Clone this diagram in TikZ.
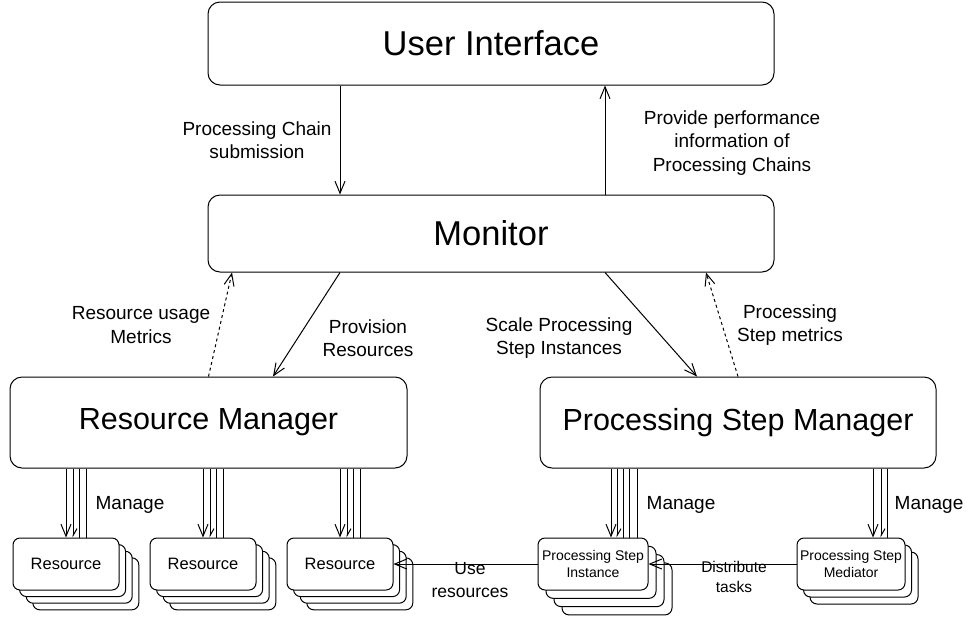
\documentclass[tikz,border=0pt]{standalone}
\usepackage{fontspec}
\setmainfont{Liberation Sans}
\usetikzlibrary{arrows.meta}

\begin{document}
\begin{tikzpicture}[x=1pt,y=-1pt]
        \tikzset{block/.style = {shape=rectangle,draw,line width=1pt,rounded corners=12pt,font=\fontsize{30.5}{36}\selectfont}}
        \tikzset{unit/.style = {shape=rectangle,draw,line width=1pt,rounded corners=7pt,fill=white,minimum height=52pt,inner sep=1pt,align=center}}
        \tikzset{note/.style = {align=center,font=\fontsize{19}{23.5}\selectfont}}
        \tikzset{edge/.style = {line width=1pt,-{Straight Barb[length=12pt,width=10pt]}}}
        \tikzset{half/.style = {line width=1pt,-{Straight Barb[left,length=7pt,width=8pt]}}}
        \tikzset{bar/.style = {line width=1pt}}
        \useasboundingbox (0,0) rectangle (971,619);

        \node[block,minimum width=566pt,minimum height=83pt,font=\fontsize{34.5}{40}\selectfont] (ui) at (491,43.5) {User Interface};
        \node[block,minimum width=566pt,minimum height=77pt,font=\fontsize{34.5}{40}\selectfont] (mon) at (491,233.5) {Monitor};
        \node[block,minimum width=397pt,minimum height=91pt] (rm) at (208.5,422.5) {Resource Manager};
        \node[block,minimum width=396pt,minimum height=91pt] (psm) at (738,422.5) {Processing Step Manager};

        % stacked resources
        \foreach \cx/\nm in {66/res1,203/res2,340/res3} {
          \foreach \k in {3,2,1}
            \node[unit,minimum width=106pt] at (\cx+6.6*\k,564+6.6*\k) {};
          \node[unit,minimum width=106pt,font=\fontsize{16.5}{19}\selectfont] (\nm) at (\cx,564) {Resource};
        }
        \foreach \k in {3,2,1}
          \node[unit,minimum width=110pt] at (593+8*\k,564+8.3*\k) {};
        \node[unit,minimum width=110pt,font=\fontsize{14}{17}\selectfont] (psi) at (593,564) {Processing Step\\Instance};
        \foreach \k in {2,1}
          \node[unit,minimum width=108pt] at (851+6.5*\k,564+7*\k) {};
        \node[unit,minimum width=108pt,font=\fontsize{14}{17}\selectfont] (med) at (851,564) {Processing Step\\Mediator};

        % manage links
        \foreach \nm in {res1,res2,res3} {
          \draw[edge] (\nm.north |- rm.south) -- (\nm.north);
          \draw[half] ([xshift=7pt]\nm.north |- rm.south) -- ([xshift=7pt]\nm.north);
          \foreach \dx in {13,20}
            \draw[bar] ([xshift=\dx pt]\nm.north |- rm.south) -- ([xshift=\dx pt]\nm.north);
        }
        \draw[edge] ([xshift=18pt]psi.north |- psm.south) -- ([xshift=18pt]psi.north);
        \draw[half] ([xshift=24pt]psi.north |- psm.south) -- ([xshift=24pt]psi.north);
        \foreach \dx in {30,36,44}
          \draw[bar] ([xshift=\dx pt]psi.north |- psm.south) -- ([xshift=\dx pt]psi.north);
        \draw[edge] ([xshift=22pt]med.north |- psm.south) -- ([xshift=22pt]med.north);
        \draw[half] ([xshift=30pt]med.north |- psm.south) -- ([xshift=30pt]med.north);
        \draw[bar] ([xshift=36pt]med.north |- psm.south) -- ([xshift=36pt]med.north);

        \draw[edge] ([xshift=-151pt]ui.south) -- ([xshift=-151pt]mon.north);
        \draw[edge] ([xshift=114pt]mon.north) -- ([xshift=114pt]ui.south);
        \draw[edge,dashed] (rm.north) -- ([xshift=-259pt]mon.south);
        \draw[edge] ([xshift=-151pt]mon.south) -- ([xshift=64.5pt]rm.north);
        \draw[edge] ([xshift=114pt]mon.south) -- ([xshift=-41pt]psm.north);
        \draw[edge,dashed] (psm.north) -- ([xshift=215pt]mon.south);
        \draw[edge] (psi.west) -- (res3.east);
        \draw[edge] (med.west) -- (psi.east);

        \node[note] (subm) at (257,140) {Processing Chain\\submission};
        \node[note] (perf) at (732,143) {Provide performance\\information of\\Processing Chains};
        \node[note] (usage) at (141,325) {Resource usage\\Metrics};
        \node[note] (prov) at (368,338) {Provision\\Resources};
        \node[note] (scale) at (559,338) {Scale Processing\\Step Instances};
        \node[note] (stepm) at (790,325) {Processing\\Step metrics};
        \node[note,font=\fontsize{17.5}{23}\selectfont] (use) at (470,580) {Use\\resources};
        \node[note,font=\fontsize{15.5}{20}\selectfont] (dist) at (734,577) {Distribute\\tasks};
        \node[note] (man1) at (130,505) {Manage};
        \node[note] (man2) at (681,505) {Manage};
        \node[note] (man3) at (929,505) {Manage};
      \end{tikzpicture}
\end{document}
